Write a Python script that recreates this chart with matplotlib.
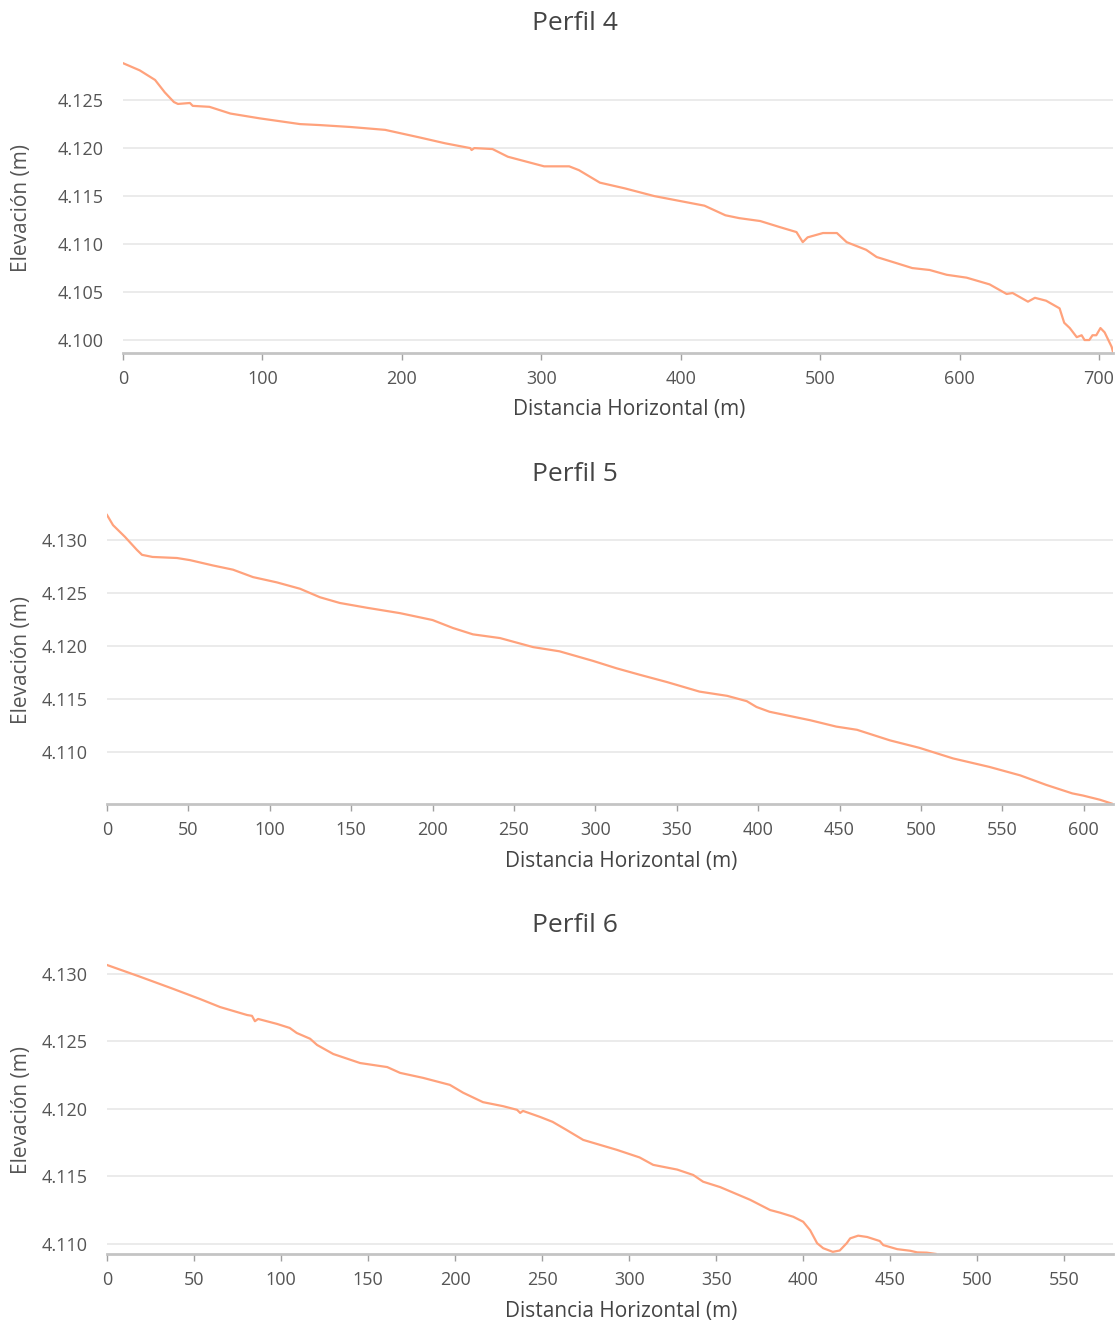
import numpy as np
import matplotlib.pyplot as plt
from matplotlib.ticker import FuncFormatter

# Perfil 4
dist4 = [0, 12, 23, 30, 36.5, 39.4, 48, 50, 62, 77, 98, 127, 141, 163, 188, 213, 231, 249, 250, 252,
         265, 276, 302, 320, 327, 342, 360, 381, 399, 417, 432, 442, 457, 471, 483, 487.5, 491, 502,
         512, 519, 533, 540.5, 555, 566, 578.5, 590.7, 605, 621.5, 633.7, 638, 649, 654, 662, 671.7,
         675, 679, 684, 687.5, 689.6, 693, 695.3, 698, 701, 704, 706, 709, 710]
elev4 = [4128.85, 4128.1, 4127.1, 4125.8, 4124.8, 4124.6, 4124.7, 4124.4, 4124.3, 4123.6, 4123.1,
         4122.5, 4122.4, 4122.2, 4121.9, 4121.1, 4120.5, 4120.0, 4119.8, 4120.0, 4119.9, 4119.1,
         4118.1, 4118.1, 4117.7, 4116.4, 4115.8, 4115.0, 4114.5, 4114.0, 4113.0, 4112.7, 4112.4,
         4111.77, 4111.25, 4110.2, 4110.7, 4111.15, 4111.15, 4110.2, 4109.4, 4108.65, 4108.0,
         4107.5, 4107.3, 4106.8, 4106.5, 4105.8, 4104.8, 4104.9, 4104.0, 4104.4, 4104.1, 4103.3,
         4101.8, 4101.25, 4100.3, 4100.5, 4100.0, 4100.0, 4100.5, 4100.5, 4101.25, 4100.8, 4100.2,
         4099.3, 4098.75]

# Perfil 5
dist5 = [0, 3.7, 11, 18.4, 21.5, 28, 43, 51, 65, 77.4, 89.7, 104.4, 118.6, 130.8, 143, 160, 180,
         200, 212.5, 224.8, 241.4, 261.7, 278, 298.5, 313, 327, 344, 364, 381, 393, 399, 407,
         425.7, 432, 448, 460.7, 481, 499, 519.7, 542, 561, 577, 593, 599.5, 610, 618]
elev5 = [4132.36, 4131.4, 4130.3, 4129.06, 4128.6, 4128.4, 4128.3, 4128.1, 4127.6, 4127.2, 4126.5,
         4126.0, 4125.4, 4124.6, 4124.06, 4123.6, 4123.1, 4122.45, 4121.7, 4121.1, 4120.75, 4119.9,
         4119.5, 4118.6, 4117.9, 4117.3, 4116.6, 4115.7, 4115.3, 4114.8, 4114.25, 4113.8, 4113.2,
         4113.0, 4112.4, 4112.1, 4111.1, 4110.4, 4109.4, 4108.6, 4107.8, 4106.9, 4106.1, 4105.9,
         4105.5, 4105.1]

# Perfil 6
dist6 = [0, 19, 38, 53.4, 65, 80.5, 83.3, 85, 86.8, 97.7, 105, 109, 116.7, 120.7, 130, 145.4, 161,
         168.4, 181.6, 197, 204.6, 216, 227.6, 235.6, 237.4, 239, 248.9, 256, 264, 273.6, 283.3,
         293, 306, 313.8, 327.6, 336.8, 342.5, 352.3, 369.5, 381, 386.8, 394.3, 400, 404, 408,
         411.5, 417, 421, 425, 427, 431.6, 436.8, 444, 446, 454, 461.5, 465.5, 471, 476]
elev6 = [4130.67, 4129.8, 4128.9, 4128.15, 4127.55, 4126.96, 4126.9, 4126.5, 4126.67, 4126.3,
         4126.0, 4125.63, 4125.2, 4124.74, 4124.07, 4123.4, 4123.1, 4122.67, 4122.3, 4121.78,
         4121.2, 4120.5, 4120.2, 4119.93, 4119.7, 4119.85, 4119.4, 4119.04, 4118.44, 4117.7,
         4117.33, 4116.96, 4116.4, 4115.85, 4115.5, 4115.1, 4114.6, 4114.2, 4113.26, 4112.5,
         4112.3, 4112.0, 4111.63, 4111.0, 4110.04, 4109.67, 4109.4, 4109.5, 4110.04, 4110.4,
         4110.6, 4110.5, 4110.2, 4109.9, 4109.6, 4109.48, 4109.36, 4109.34, 4109.25]

xticks4 = [0, 100, 200, 300, 400, 500, 600, 700]
yticks4 = [4100, 4105, 4110, 4115, 4120, 4125]
xticks5 = [0, 50, 100, 150, 200, 250, 300, 350, 400, 450, 500, 550, 600]
yticks5 = [4110, 4115, 4120, 4125, 4130]
xticks6 = [0, 50, 100, 150, 200, 250, 300, 350, 400, 450, 500, 550]
yticks6 = [4110, 4115, 4120, 4125, 4130]

plt.rcParams['font.family'] = ['Open Sans', 'DejaVu Sans']
W, H = 1119, 1325
fig = plt.figure(figsize=(W / 100, H / 100), dpi=100)

line_c = '#ffa27c'
txt_c = '#555555'


def thousands(v, pos):
    return f"{v:,.0f}".replace(",", ".")


def panel(left, right, top, bottom, x, y, xlim, ylim, xt, yt, title, title_y, xl_x, xl_y, yl_y):
    ax = fig.add_axes([left / W, 1 - bottom / H, (right - left) / W, (bottom - top) / H])
    ax.plot(x, y, color=line_c, lw=1.6, solid_joinstyle='round')
    ax.set_xlim(*xlim)
    ax.set_ylim(*ylim)
    ax.set_xticks(xt)
    ax.set_yticks(yt)
    ax.yaxis.set_major_formatter(FuncFormatter(thousands))
    ax.grid(axis='y', color='#e8e8e8', lw=1.2)
    ax.set_axisbelow(True)
    for s in ['top', 'right', 'left']:
        ax.spines[s].set_visible(False)
    ax.spines['bottom'].set_color('#c4c4c4')
    ax.spines['bottom'].set_linewidth(2)
    ax.tick_params(axis='y', length=0, pad=14, labelsize=13, labelcolor=txt_c)
    ax.tick_params(axis='x', length=5, width=1, color='#a0a0a0', pad=7, labelsize=13, labelcolor=txt_c)
    fig.text(575 / W, 1 - title_y / H, title, ha='center', va='center', fontsize=19, color='#444444')
    fig.text(xl_x / W, 1 - xl_y / H, 'Distancia Horizontal (m)', ha='center', va='center',
             fontsize=15, color='#444444')
    fig.text(22 / W, 1 - yl_y / H, 'Elevación (m)', ha='center', va='center', rotation=90,
             fontsize=15, color='#555555')
    return ax


panel(123, 1113, 55, 353, dist4, elev4, (0, 710), (4098.65, 4129.7), xticks4, yticks4,
      'Perfil 4', 23, 629, 410, 208)
panel(107, 1113, 505, 804, dist5, elev5, (0, 618), (4105.1, 4133.3), xticks5, yticks5,
      'Perfil 5', 475, 621, 861, 660)
panel(107, 1113, 960, 1254, dist6, elev6, (0, 578), (4109.24, 4131.04), xticks6, yticks6,
      'Perfil 6', 926, 621, 1311, 1110)

fig.savefig('out.png', dpi=100)
